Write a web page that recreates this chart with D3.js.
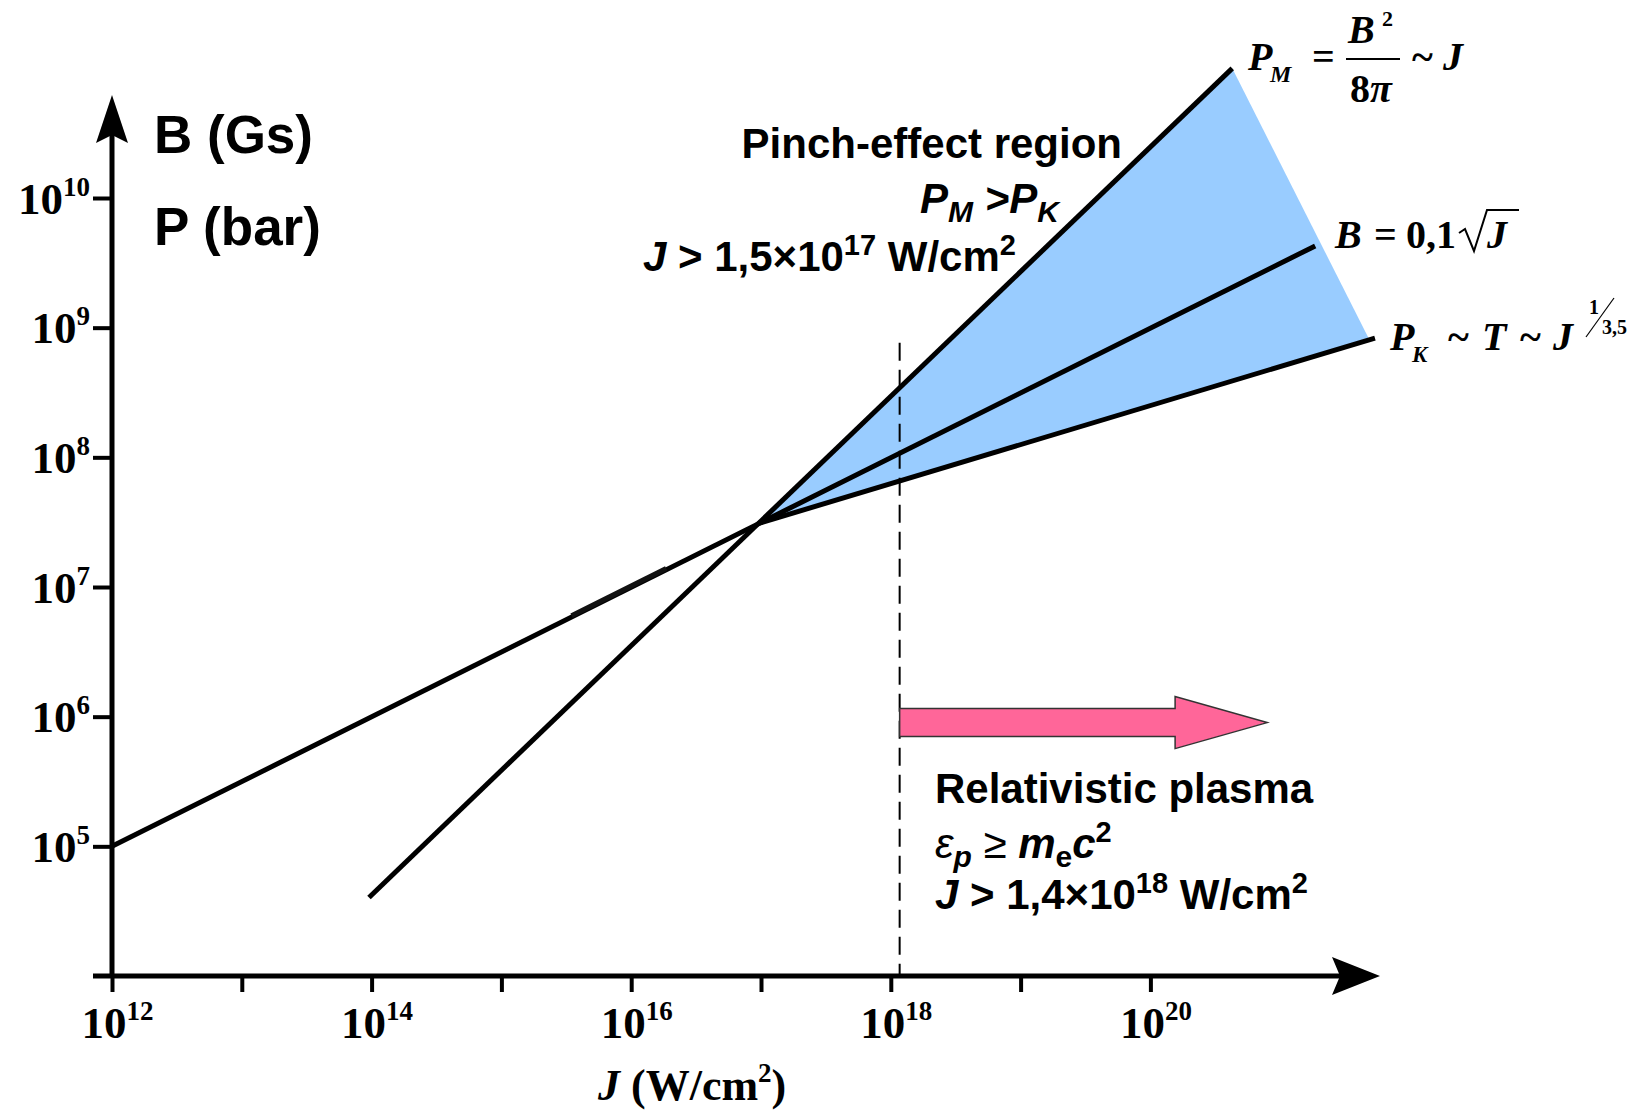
<!DOCTYPE html>
<html>
<head>
<meta charset="utf-8">
<script src="https://cdn.jsdelivr.net/npm/d3@7"></script>
<style>
body { margin: 0; background: #fff; }
svg { display: block; }
.serif { font-family: "Liberation Serif", "Times New Roman", serif; font-weight: bold; }
.sans { font-family: "Liberation Sans", Arial, sans-serif; font-weight: bold; }
</style>
</head>
<body>
<div class="chart"></div>
<script>
var width = 1644;
var height = 1111;

// ticks
var xMajor = [1e12, 1e14, 1e16, 1e18, 1e20];
var xMinor = [1e13, 1e15, 1e17, 1e19];
var yTicks = [1e5, 1e6, 1e7, 1e8, 1e9, 1e10];

// lines, [J, B or P]
var lineB = [[1e12, 1e5], [1.86e21, 4.27e9]];
var lineBOverlap = [[3.47e15, 5.89e6], [1.86e16, 1.365e7]];
var linePM = [[9.55e13, 4.03e4], [4.27e20, 1e11]];
var linePK = [[9.55e16, 3.09e7], [5.37e21, 8.32e8]];
var pinchRegion = [[9.55e16, 3.09e7], [4.27e20, 1e11], [4.79e21, 8.32e8]];

// relativistic boundary + arrow
var relJ = 1.17e18;
var relTop = 7.66e8;
var arrowJ = [1.17e18, 1.55e20, 7.94e20]; // start, head, tip
var arrowLevel = 9.0e5;

const svg = d3.select(".chart")
              .append("svg")
              .attr("width", width)
              .attr("height", height);

var x = d3.scaleLog().domain([1e12, 1e20]).range([112, 1150.4]);
var y = d3.scaleLog().domain([1e4, 1e10]).range([976, 198]);

var line = d3.line().x(d => x(d[0])).y(d => y(d[1]));

// pinch region fill
svg.append("path")
   .attr("d", line(pinchRegion) + "Z")
   .attr("fill", "#99CCFF");

// dashed boundary
svg.append("line")
   .attr("x1", x(relJ)).attr("x2", x(relJ))
   .attr("y1", y(relTop)).attr("y2", y(1e4))
   .attr("stroke", "#000")
   .attr("stroke-width", 2)
   .attr("stroke-dasharray", "18,9");

// lines
[lineB, linePM, linePK].forEach(function(d) {
  svg.append("path")
     .attr("d", line(d))
     .attr("fill", "none")
     .attr("stroke", "#000")
     .attr("stroke-width", 5);
});
svg.append("path")
   .attr("d", line(lineBOverlap))
   .attr("transform", "translate(0,-1)")
   .attr("fill", "none")
   .attr("stroke", "#111")
   .attr("stroke-width", 5);

// pink arrow
var ax0 = x(arrowJ[0]), axh = x(arrowJ[1]), axt = x(arrowJ[2]), ay = y(arrowLevel);
svg.append("path")
   .attr("d", "M" + ax0 + "," + (ay - 14) + "L" + axh + "," + (ay - 14) + "L" + axh + "," + (ay - 26) +
              "L" + axt + "," + ay + "L" + axh + "," + (ay + 26) + "L" + axh + "," + (ay + 14) +
              "L" + ax0 + "," + (ay + 14) + "Z")
   .attr("fill", "#FF6699")
   .attr("stroke", "#333")
   .attr("stroke-width", 1.5);

// axes
var x0 = y(1e4);
const xAxis = d3.axisBottom(x)
                .tickValues(xMajor.concat(xMinor))
                .tickSize(16)
                .tickSizeOuter(0)
                .tickFormat(d => xMajor.indexOf(d) >= 0 ? String(Math.round(Math.log10(d))) : "");
const yAxis = d3.axisLeft(y)
                .tickValues(yTicks)
                .tickSize(19)
                .tickSizeOuter(0)
                .tickFormat(d => String(Math.round(Math.log10(d))));

var gx = svg.append("g")
   .attr("id", "x-axis")
   .attr("transform", "translate(0," + x0 + ")")
   .call(xAxis);
var gy = svg.append("g")
   .attr("id", "y-axis")
   .attr("transform", "translate(" + x(1e12) + ",0)")
   .call(yAxis);

[gx, gy].forEach(function(g) {
  g.select(".domain").remove();
  g.selectAll(".tick line").attr("stroke", "#000").attr("stroke-width", 4);
});

function powLabel(t) {
  var e = t.text();
  t.text(null)
   .attr("class", "serif")
   .attr("font-size", 45)
   .attr("fill", "#000");
  if (e === "") return;
  t.append("tspan").text("10");
  t.append("tspan").attr("font-size", 27).attr("dy", -18).text(e);
}
gx.selectAll(".tick text").each(function() { powLabel(d3.select(this)); })
  .attr("y", 62).attr("dy", 0).attr("dx", 5).attr("text-anchor", "middle");
gy.selectAll(".tick text").each(function() { powLabel(d3.select(this)); })
  .attr("x", -22).attr("dy", 0).attr("y", 15).attr("text-anchor", "end");

// axis lines with arrows
svg.append("line")
   .attr("x1", 93).attr("x2", 1345)
   .attr("y1", x0).attr("y2", x0)
   .attr("stroke", "#000").attr("stroke-width", 5);
svg.append("path")
   .attr("d", "M1380," + x0 + "L1332," + (x0 - 19) + "L1340," + x0 + "L1332," + (x0 + 19) + "Z")
   .attr("fill", "#000");
var ya = x(1e12);
svg.append("line")
   .attr("x1", ya).attr("x2", ya)
   .attr("y1", x0 + 2).attr("y2", 135)
   .attr("stroke", "#000").attr("stroke-width", 5);
svg.append("path")
   .attr("d", "M" + ya + ",95L" + (ya - 16) + ",143L" + ya + ",135L" + (ya + 16) + ",143Z")
   .attr("fill", "#000");

// axis title
var tj = svg.append("text").attr("class", "serif").attr("font-size", 44)
   .attr("x", 598).attr("y", 1100);
tj.append("tspan").attr("font-style", "italic").text("J");
tj.append("tspan").text(" (W/cm");
tj.append("tspan").attr("font-size", 27).attr("dy", -18).text("2");
tj.append("tspan").attr("dy", 18).text(")");

svg.append("text").attr("class", "sans").attr("font-size", 53)
   .attr("x", 154).attr("y", 153).text("B (Gs)");
svg.append("text").attr("class", "sans").attr("font-size", 53)
   .attr("x", 154).attr("y", 245).text("P (bar)");

// pinch-effect annotation
svg.append("text").attr("class", "sans").attr("font-size", 42)
   .attr("x", 1122).attr("y", 158).attr("text-anchor", "end")
   .text("Pinch-effect region");
var tp = svg.append("text").attr("class", "sans").attr("font-size", 42)
   .attr("font-style", "italic")
   .attr("x", 1059).attr("y", 213).attr("text-anchor", "end");
tp.append("tspan").text("P");
tp.append("tspan").attr("font-size", 30).attr("dy", 9).text("M");
tp.append("tspan").attr("dy", -9).text(" >P");
tp.append("tspan").attr("font-size", 30).attr("dy", 9).text("K");

function jLabel(xp, yp, mant, ex) {
  var t = svg.append("text").attr("class", "sans").attr("font-size", 42)
     .attr("x", xp).attr("y", yp);
  t.append("tspan").attr("font-style", "italic").text("J");
  t.append("tspan").text(" > " + mant + "\u00d710");
  t.append("tspan").attr("font-size", 29).attr("dy", -16).text(ex);
  t.append("tspan").attr("dy", 16).text(" W/cm");
  t.append("tspan").attr("font-size", 29).attr("dy", -16).text("2");
}
jLabel(643, 271, "1,5", "17");

// relativistic annotation
svg.append("text").attr("class", "sans").attr("font-size", 42)
   .attr("x", 935).attr("y", 803).text("Relativistic plasma");
var te = svg.append("text").attr("class", "sans").attr("font-size", 42)
   .attr("x", 935).attr("y", 858);
te.append("tspan").attr("font-style", "italic").attr("font-weight", "normal").text("\u03b5");
te.append("tspan").attr("font-style", "italic").attr("font-size", 30).attr("dy", 9).text("p");
te.append("tspan").attr("dy", -9).attr("font-weight", "normal").text(" \u2265 ");
te.append("tspan").attr("font-style", "italic").text("m");
te.append("tspan").attr("font-size", 30).attr("dy", 9).text("e");
te.append("tspan").attr("font-style", "italic").attr("dy", -9).text("c");
te.append("tspan").attr("font-size", 29).attr("dy", -16).text("2");
jLabel(935, 909, "1,4", "18");

// formula labels
function serifText(xp, yp, s, size, italic) {
  return svg.append("text").attr("class", "serif")
     .attr("font-size", size || 40)
     .attr("font-style", italic ? "italic" : "normal")
     .attr("x", xp).attr("y", yp).text(s);
}
// P_M = B^2 / 8pi ~ J
serifText(1248, 70, "P", 40, true);
serifText(1270, 82, "M", 24, true);
serifText(1312, 70, "=", 40);
serifText(1348, 43, "B", 40, true);
serifText(1382, 26, "2", 22);
svg.append("line").attr("x1", 1346).attr("x2", 1400).attr("y1", 59).attr("y2", 59)
   .attr("stroke", "#000").attr("stroke-width", 2);
serifText(1350, 102, "8", 40);
serifText(1370, 102, "\u03c0", 40, true);
serifText(1412, 70, "~", 40);
serifText(1443, 70, "J", 40, true);

// B = 0,1 sqrt J
serifText(1335, 248, "B", 40, true);
serifText(1374, 248, "=", 40);
serifText(1406, 248, "0,1", 40);
svg.append("path")
   .attr("d", "M1459,233L1465,229L1474,251L1487,210L1519,210")
   .attr("fill", "none").attr("stroke", "#000").attr("stroke-width", 2)
   .attr("stroke-linejoin", "miter");
serifText(1487, 248, "J", 40, true);

// P_K ~ T ~ J^(1/3,5)
serifText(1390, 350, "P", 40, true);
serifText(1412, 362, "K", 23, true);
serifText(1448, 350, "~", 40);
serifText(1482, 350, "T", 40, true);
serifText(1520, 350, "~", 40);
serifText(1553, 350, "J", 40, true);
serifText(1589, 314, "1", 20);
svg.append("line").attr("x1", 1586).attr("x2", 1614).attr("y1", 337).attr("y2", 298)
   .attr("stroke", "#000").attr("stroke-width", 1.2);
serifText(1602, 334, "3,5", 20);
</script>
</body>
</html>
